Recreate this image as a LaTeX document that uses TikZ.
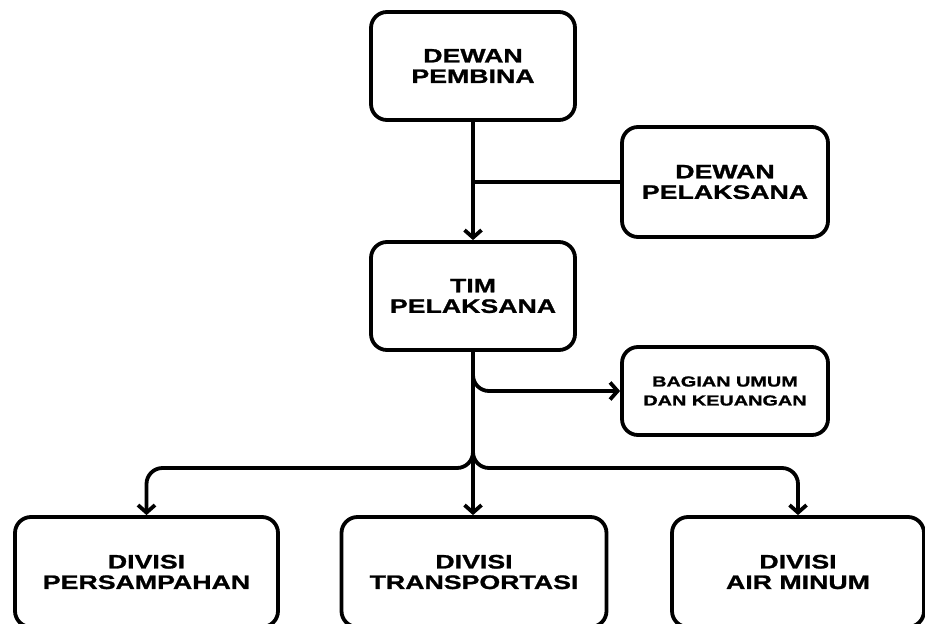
\documentclass[tikz,border=0pt]{standalone}
\usepackage{fontspec}
\setmainfont{Liberation Sans}[FakeStretch=1.37, BoldFeatures={FakeBold=1.2}]
\usetikzlibrary{arrows.meta}
\tikzset{
  box/.style={draw, line width=3.8pt, rounded corners=16pt, align=center, inner sep=0pt,
    font=\bfseries\fontsize{19.5}{20.5}\selectfont},
  conn/.style={line width=3.8pt, rounded corners=16pt},
  arr/.style={conn, -{Straight Barb[length=7.5pt,width=17pt,line width=3.8pt]}}
}
\begin{document}
\begin{tikzpicture}[x=1pt,y=-1pt]
\useasboundingbox (0,0) rectangle (925,623);
\node[box, minimum width=204pt, minimum height=108pt] (pembina) at (473,66) {DEWAN\\PEMBINA};
\node[box, minimum width=206pt, minimum height=110pt] (dpel) at (725,182) {DEWAN\\PELAKSANA};
\node[box, minimum width=204pt, minimum height=108pt] (tim) at (473,296) {TIM\\PELAKSANA};
\node[box, minimum width=206pt, minimum height=88pt, font=\bfseries\fontsize{14.5}{19}\selectfont] (bag) at (725,391) {BAGIAN UMUM\\DAN KEUANGAN};
\node[box, minimum width=263pt, minimum height=110pt] (d1) at (146.5,572) {DIVISI\\PERSAMPAHAN};
\node[box, minimum width=265pt, minimum height=110pt] (d2) at (474,572) {DIVISI\\TRANSPORTASI};
\node[box, minimum width=252pt, minimum height=110pt] (d3) at (798,572) {DIVISI\\AIR MINUM};
\coordinate (j1) at (473,182);
\coordinate (j2) at (473,468);
\draw[arr] (pembina.south) -- (tim.north);
\draw[conn] (dpel.west) -- (j1);
\draw[arr] (tim.south) |- (bag.west);
\draw[arr] (tim.south) -- (tim.south |- d2.north);
\draw[arr] (tim.south) -- (j2) -| (d1.north);
\draw[arr] (tim.south) -- (j2) -| (d3.north);
\end{tikzpicture}
\end{document}
